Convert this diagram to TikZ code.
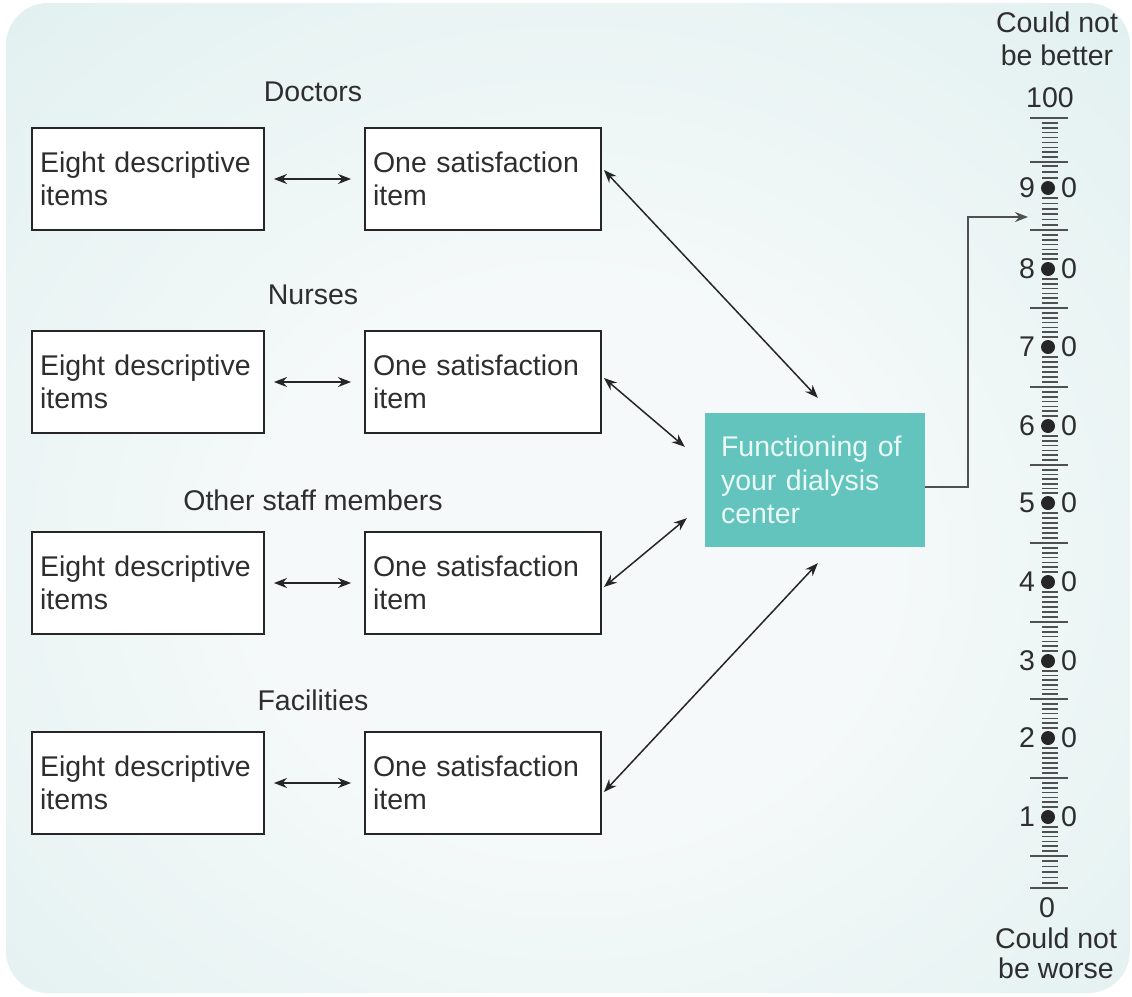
\documentclass[tikz,border=0pt]{standalone}
\usepackage{fontspec}
\setmainfont{Liberation Sans}
\usetikzlibrary{arrows.meta,calc}
\definecolor{bgedge}{HTML}{D6ECEA}
\definecolor{bgmid}{HTML}{F5F9F9}
\definecolor{teal1}{HTML}{62C4BD}
\definecolor{tealtxt}{HTML}{EAF8F6}
\definecolor{txt}{HTML}{2E2E2E}
\definecolor{linec}{HTML}{262626}
\definecolor{tickc}{HTML}{505050}
\pgfdeclareradialshading{bgshade}{\pgfpoint{0bp}{-4bp}}{color(0bp)=(bgmid); color(14bp)=(bgmid); color(50bp)=(bgedge); color(75bp)=(bgedge)}
\begin{document}
\begin{tikzpicture}[x=1pt,y=-1pt,
  every node/.style={font=\fontsize{28.5}{33.5}\selectfont, text=txt},
  itembox/.style={draw=linec, line width=1.9pt, fill=white, minimum height=102pt, inner xsep=8pt, inner ysep=0pt, align=left},
  leftbox/.style={itembox, text width=216pt},
  rightbox/.style={itembox, text width=220pt},
  grouplabel/.style={inner sep=0pt},
  centerbox/.style={fill=teal1, text=tealtxt, text width=188pt, inner xsep=16pt, inner ysep=0pt, minimum height=134pt, align=left},
  arr/.style={{Stealth[length=13pt,width=10pt]}-{Stealth[length=13pt,width=10pt]}, draw=linec, line width=1.5pt},
  conn/.style={-{Stealth[length=13pt,width=10pt]}, draw=tickc, line width=1.7pt},
  longtick/.style={draw=tickc, line width=1.9pt},
  shorttick/.style={draw=tickc, line width=1.5pt},
  scalelabel/.style={inner sep=0pt},
]
\useasboundingbox (0,0) rectangle (1132,996);
\path[shading=bgshade, rounded corners=42pt] (6,3) rectangle (1130,993);

% group labels
\node[grouplabel] (gD) at (313,92) {Doctors};
\node[grouplabel] (gN) at (313,295) {Nurses};
\node[grouplabel] (gO) at (313,500) {Other staff members};
\node[grouplabel] (gF) at (313,700) {Facilities};

% boxes
\node[leftbox] (L1) at (148,179) {Eight descriptive\\items};
\node[rightbox] (R1) at (483,179) {One satisfaction\\item};
\node[leftbox] (L2) at (148,382) {Eight descriptive\\items};
\node[rightbox] (R2) at (483,382) {One satisfaction\\item};
\node[leftbox] (L3) at (148,583) {Eight descriptive\\items};
\node[rightbox] (R3) at (483,583) {One satisfaction\\item};
\node[leftbox] (L4) at (148,783) {Eight descriptive\\items};
\node[rightbox] (R4) at (483,783) {One satisfaction\\item};

\node[centerbox] (F) at (815,480) {Functioning of\\your dialysis\\center};

% horizontal double arrows
\foreach \i in {1,2,3,4}{
  \draw[arr] ([xshift=9pt]L\i.east) -- ([xshift=-13pt]R\i.west);
}

% diagonal arrows
\draw[arr] ($(R1.east)+(2,-9)$) -- ($(F.north west)+(113,-15)$);
\draw[arr] ($(R2.east)+(2,-4)$) -- ($(F.north west)+(-20,34)$);
\draw[arr] ($(R3.east)+(2,4)$) -- ($(F.south west)+(-18,-29)$);
\draw[arr] ($(R4.east)+(2,9)$) -- ($(F.south west)+(113,16)$);

% connector to scale
\coordinate (tip) at (1028,217);
\draw[conn] ($(F.east)+(0,7)$) -- ++(43,0) |- (tip);

% scale: long ticks
\foreach \y in {118,162,230,308,387,465,543,622,699,778,856,888}{
  \draw[longtick] (1030,\y) -- (1068,\y);
}
% short ticks between anchors
\foreach \a/\b/\ga/\gb in {118/162/5/5, 162/188/4/10, 188/230/10/5, 230/269/5/10, 269/308/10/5, 308/347/5/10, 347/387/10/5, 387/426/5/10, 426/465/10/5, 465/503/5/10, 503/543/10/5, 543/582/5/10, 582/622/10/5, 622/661/5/10, 661/699/10/5, 699/738/5/10, 738/778/10/5, 778/817/5/10, 817/856/10/5, 856/888/5/5}{
  \pgfmathsetmacro\s{\a+\ga}
  \pgfmathsetmacro\e{\b-\gb}
  \pgfmathtruncatemacro\n{max(1,round((\e-\s)/5))}
  \foreach \k in {0,...,\n}{
    \pgfmathsetmacro\yy{\s+\k*(\e-\s)/\n}
    \draw[shorttick] (1042,\yy) -- (1058,\yy);
  }
}
% dots and numbers
\foreach \d/\y in {9/188,8/269,7/347,6/426,5/503,4/582,3/661,2/738,1/817}{
  \fill[linec] (1048,\y) circle[radius=7pt];
  \node[scalelabel] (sl\d) at (1027,\y) {\d};
  \node[scalelabel] (sr\d) at (1069,\y) {0};
}
\node[scalelabel] (top1) at (1057,22) {Could not};
\node[scalelabel] (top2) at (1057,55) {be better};
\node[scalelabel] (n100) at (1050,98) {100};
\node[scalelabel] (n0) at (1047,908) {0};
\node[scalelabel] (bot1) at (1056,938) {Could not};
\node[scalelabel] (bot2) at (1056,968) {be worse};
\end{tikzpicture}
\end{document}
